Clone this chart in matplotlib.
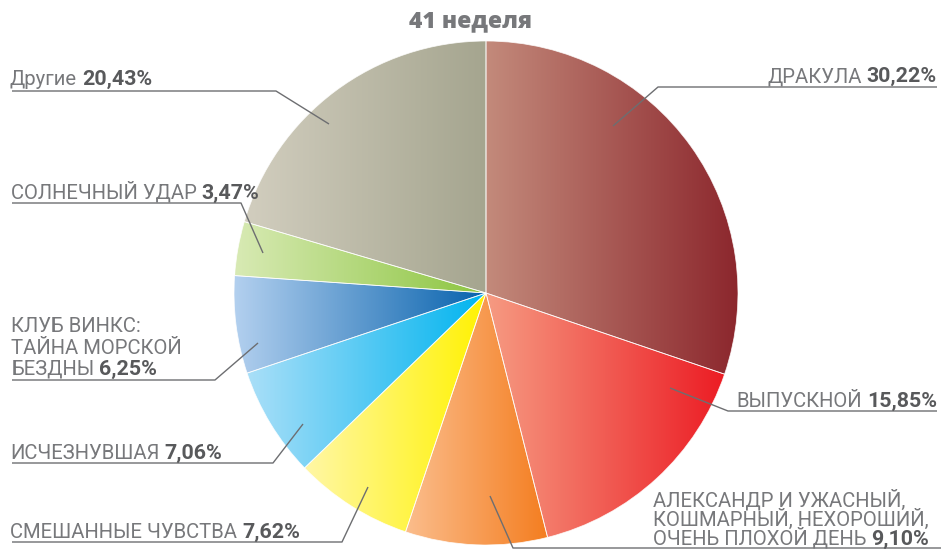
import numpy as np
import matplotlib
matplotlib.use("Agg")
import matplotlib.pyplot as plt
from matplotlib.patches import Wedge
from matplotlib.colors import LinearSegmentedColormap

# data, clockwise from 12 o'clock
names = [
    "ДРАКУЛА",
    "ВЫПУСКНОЙ",
    "АЛЕКСАНДР И УЖАСНЫЙ,\nКОШМАРНЫЙ, НЕХОРОШИЙ,\nОЧЕНЬ ПЛОХОЙ ДЕНЬ",
    "СМЕШАННЫЕ ЧУВСТВА",
    "ИСЧЕЗНУВШАЯ",
    "КЛУБ ВИНКС:\nТАЙНА МОРСКОЙ\nБЕЗДНЫ",
    "СОЛНЕЧНЫЙ УДАР",
    "Другие",
]
shares = [30.22, 15.85, 9.10, 7.62, 7.06, 6.25, 3.47, 20.43]
title = "41 неделя"

# gradient colours (left -> right) for each slice
light = ["#c38a7b", "#f69b82", "#fbbd8c", "#fff7a6", "#aadff8", "#b3d0ef", "#d8eab4", "#d2cebf"]
dark = ["#8c272d", "#ec1c24", "#f47d1f", "#fff200", "#00b4ef", "#0762ad", "#8cc540", "#a5a58f"]

# label layout in pixels from top-left: leader (inner, bend, outer), text anchor
W, H = 941, 549
leaders = [
    [(613, 126), (658, 87), (937, 87)],
    [(670, 388), (728, 411), (937, 411)],
    [(490, 496), (513, 548), (941, 548)],
    [(368, 487), (342, 542), (12, 542)],
    [(303, 424), (273, 463), (12, 463)],
    [(258, 343), (215, 380), (12, 380)],
    [(263, 253), (241, 203), (12, 203)],
    [(329, 124), (276, 91), (12, 91)],
]
text_x = [937, 937, 653, 10, 10, 11, 11, 10]
text_ha = ["right", "right", "left", "left", "left", "left", "left", "left"]
last_base = [82, 407, 545, 538, 459, 375, 199, 85]
line_step = [21, 21, 19.5, 21, 21, 21.5, 21, 21]

cx, cy, R = 486, 293, 252

TXT = "#77787b"
NUM = "#58595b"
LINE = "#6d6e71"

fig = plt.figure(figsize=(W / 100, H / 100), dpi=100)
ax = fig.add_axes([0, 0, 1, 1])
ax.set_xlim(0, W)
ax.set_ylim(0, H)
ax.axis("off")


def py(y):
    return H - y


# pie slices with a horizontal gradient each
start = 90.0
for share, c0, c1 in zip(shares, light, dark):
    sweep = share / sum(shares) * 360.0
    t1, t2 = start - sweep, start
    wedge = Wedge((cx, py(cy)), R, t1, t2, transform=ax.transData)
    th = np.radians(np.linspace(t1, t2, 200))
    xs = np.concatenate([[cx], cx + R * np.cos(th)])
    ys = np.concatenate([[py(cy)], py(cy) + R * np.sin(th)])
    cmap = LinearSegmentedColormap.from_list("g", [c0, c1])
    grad = np.linspace(0, 1, 256).reshape(1, -1)
    im = ax.imshow(grad, cmap=cmap, aspect="auto", interpolation="bilinear",
                   extent=(xs.min(), xs.max(), ys.min(), ys.max()), zorder=1)
    im.set_clip_path(wedge)
    ax.add_patch(Wedge((cx, py(cy)), R, t1, t2, fill=False,
                       edgecolor="white", linewidth=0.6, alpha=0.8, zorder=2))
    start = t1

ax.set_xlim(0, W)
ax.set_ylim(0, H)

# leader lines
for pts in leaders:
    xs = [p[0] for p in pts]
    ys = [py(p[1]) for p in pts]
    ax.plot(xs, ys, color=LINE, linewidth=1.0, zorder=3, solid_capstyle="butt")

fig.canvas.draw()
renderer = fig.canvas.get_renderer()

name_font = dict(family=["Roboto", "DejaVu Sans"], fontsize=14.6, fontweight="normal", color=TXT)
num_font = dict(family=["Roboto", "DejaVu Sans"], fontsize=15.4,
                fontweight="bold", color=NUM)
SPACE = 5

for name, share, x, ha, base, step in zip(names, shares, text_x, text_ha, last_base, line_step):
    pct = f"{share:.2f}%".replace(".", ",")
    lines = name.split("\n")
    n = len(lines)
    for i, ln in enumerate(lines):
        yb = py(base - (n - 1 - i) * step)
        last = i == n - 1
        if ha == "right" and last:
            t_num = ax.text(x, yb, pct, ha="right", va="baseline", zorder=4, **num_font)
            w = t_num.get_window_extent(renderer).width
            ax.text(x - w - SPACE, yb, ln, ha="right", va="baseline", zorder=4, **name_font)
        else:
            t_name = ax.text(x, yb, ln, ha="left" if ha == "left" else "right",
                             va="baseline", zorder=4, **name_font)
            if last:
                bb = t_name.get_window_extent(renderer)
                ax.text(bb.x1 + SPACE, yb, pct, ha="left", va="baseline", zorder=4, **num_font)

ax.text(471, py(27), title, ha="center", va="baseline", color=TXT,
        family=["Open Sans", "Roboto", "DejaVu Sans"], fontweight="heavy", fontsize=16.5)

fig.savefig("out.png", dpi=100)
